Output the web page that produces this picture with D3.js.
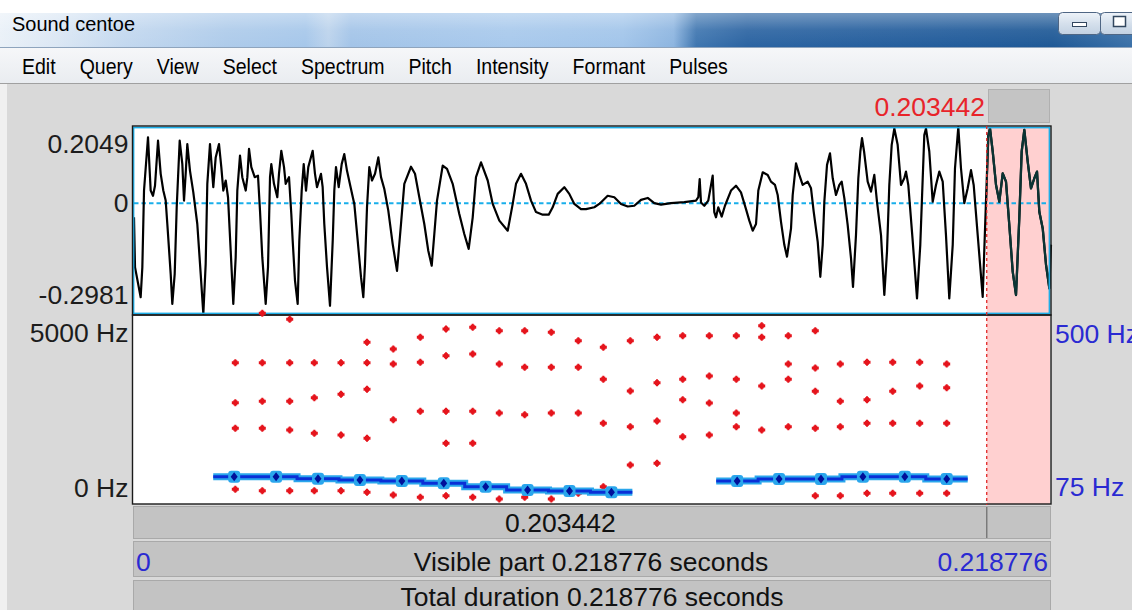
<!DOCTYPE html>
<html>
<head>
<meta charset="utf-8">
<script src="https://cdn.jsdelivr.net/npm/d3@7"></script>
<style>
  html, body { margin: 0; padding: 0; overflow: hidden; background: #d9d9d9; }
  svg { display: block; }
  text { font-family: "Liberation Sans", Arial, sans-serif; }
</style>
</head>
<body>
<svg id="editor" width="1132" height="610"></svg>
<script>
// ---------------- data ----------------
const windowTitle = "Sound centoe";
const menuItems = ["Edit", "Query", "View", "Select", "Spectrum", "Pitch", "Intensity", "Formant", "Pulses"];

const totalDuration = 218.776;   // ms
const cursorTime = 203.442;      // ms
const ampMax = 0.2049, ampMin = -0.2981;
const ampTickValues = [0.2049, 0, -0.2981];
const ampTickLabels = ["0.2049", "0", "-0.2981"];
const freqTickValues = [5000, 0];
const freqTickLabels = ["5000 Hz", "0 Hz"];
const pitchTickValues = [500, 75];
const pitchTickLabels = ["500 Hz", "75 Hz"];

// waveform: [time ms, amplitude]
const waveform = [
  [0,-0.038],[0.24,-0.172],[1.59,-0.253],[1.99,-0.172],[2.39,0.034],[3.34,0.177],[3.98,0.034],[4.53,0.020],
  [5.01,0.047],[5.73,0.168],[6.37,0.079],[6.99,0.034],[7.56,0.007],[7.95,-0.056],[8.75,-0.190],[9.14,-0.271],
  [9.71,-0.190],[10.19,-0.011],[10.90,0.168],[11.53,0.105],[11.93,0.007],[12.33,0.079],[12.72,0.159],[13.36,0.087],
  [14.15,0.029],[15.10,-0.056],[15.91,-0.190],[16.54,-0.2981],[17.10,-0.164],[17.49,0.052],[18.13,0.159],[18.92,0.043],
  [19.49,0.123],[20.28,0.159],[20.83,0.097],[21.31,0.034],[21.88,0.061],[22.43,0.016],[23.07,-0.128],[23.69,-0.271],
  [24.26,-0.146],[24.65,0.034],[25.29,0.128],[25.84,0.070],[26.65,0.034],[27.04,0.070],[27.44,0.146],[27.99,0.097],
  [28.80,0.070],[29.58,0.074],[30.06,-0.020],[30.61,-0.146],[31.42,-0.271],[31.97,-0.172],[32.45,0.070],[32.76,0.105],
  [33.40,0.052],[34.19,0.016],[34.59,0.079],[35.14,0.141],[35.79,0.097],[36.19,0.052],[36.98,0.070],[37.53,-0.029],
  [37.86,-0.101],[38.41,-0.208],[39.05,-0.271],[39.44,-0.101],[40.01,0.034],[40.49,0.105],[41.04,0.034],[41.58,0.097],
  [42.63,0.141],[43.18,0.079],[43.66,0.043],[44.61,0.079],[45.01,0.043],[45.40,-0.056],[46.05,-0.172],[46.76,-0.276],
  [47.41,-0.101],[47.79,0.034],[48.19,0.097],[48.84,0.043],[49.55,0.105],[50.17,0.132],[50.82,0.087],[51.60,0.047],
  [52.56,-0.002],[53.37,-0.101],[54.16,-0.199],[54.71,-0.253],[55.11,-0.164],[55.59,-0.011],[56.14,0.097],[56.78,0.061],
  [57.50,0.079],[58.29,0.123],[58.93,0.070],[59.72,0.038],[60.67,-0.020],[61.72,-0.110],[62.75,-0.182],[63.70,-0.056],
  [64.49,0.052],[66.09,0.098],[67.04,0.079],[68.07,0.016],[69.26,-0.056],[70.21,-0.128],[71.03,-0.168],[71.65,-0.083],
  [72.29,0.007],[73.65,0.101],[74.68,0.092],[76.03,0.052],[77.61,-0.029],[78.80,-0.083],[79.85,-0.123],[80.81,-0.038],
  [81.59,0.070],[82.79,0.110],[84.39,0.061],[85.58,-0.002],[87.16,-0.047],[89.16,-0.074],[90.35,-0.002],[91.14,0.052],
  [92.33,0.079],[93.52,0.052],[94.72,0.007],[95.91,-0.024],[97.51,-0.031],[98.94,-0.031],[99.89,-0.011],[101.08,0.025],
  [102.66,0.043],[103.85,0.025],[105.05,-0.002],[106.64,-0.016],[107.84,-0.016],[109.82,-0.011],[111.01,-0.002],[113.01,0.020],
  [114.59,0.016],[116.19,-0.002],[117.79,-0.009],[119.36,-0.007],[120.96,0.009],[122.56,0.014],[124.13,0.000],[125.73,-0.004],
  [128.12,0.000],[131.29,0.003],[134.08,0.007],[134.63,0.016],[134.96,0.065],[135.27,0.002],[136.06,-0.007],[137.01,0.007],
  [138.06,0.074],[138.44,-0.024],[138.85,-0.038],[139.40,-0.011],[140.21,-0.036],[140.99,-0.007],[142.43,0.034],[143.62,0.047],
  [144.81,0.029],[146.01,-0.016],[146.80,-0.047],[147.61,-0.074],[148.40,-0.056],[148.95,0.034],[150.00,0.083],[151.19,0.076],
  [151.97,0.058],[152.93,0.049],[153.57,0.022],[154.36,-0.050],[155.15,-0.112],[155.79,-0.144],[156.75,-0.068],[157.15,0.022],
  [157.94,0.107],[158.73,0.076],[159.53,0.049],[160.73,0.058],[161.52,0.040],[162.16,-0.023],[163.12,-0.104],[163.74,-0.198],
  [164.31,-0.112],[164.70,0.004],[165.34,0.103],[166.05,0.134],[166.70,0.067],[167.48,0.022],[168.28,0.049],[168.84,0.058],
  [169.48,0.013],[170.27,-0.059],[171.06,-0.148],[171.54,-0.225],[172.25,-0.086],[172.81,0.067],[173.29,0.139],[173.69,0.175],
  [174.18,0.139],[175.04,0.058],[175.83,0.031],[176.62,0.076],[177.26,0.004],[178.22,-0.086],[179.01,-0.247],[179.65,-0.130],
  [180.20,0.049],[180.77,0.157],[181.40,0.201],[182.19,0.157],[182.99,0.049],[183.77,0.067],[184.18,0.085],[184.73,0.049],
  [185.73,-0.094],[186.81,-0.256],[187.59,-0.112],[188.17,0.067],[188.55,0.183],[188.95,0.201],[189.74,0.139],[190.55,0.004],
  [191.34,0.049],[192.13,0.085],[192.94,0.058],[193.72,-0.086],[194.51,-0.256],[195.33,-0.112],[195.87,0.094],[196.66,0.2049],
  [197.30,0.094],[198.09,0.000],[198.90,0.040],[199.69,0.089],[200.33,0.049],[201.29,-0.086],[202.48,-0.252],[203.26,0.004],
  [203.82,0.183],[204.22,0.201],[204.87,0.139],[205.66,0.049],[206.45,0.004],[207.26,0.080],[208.04,0.058],[208.83,-0.059],
  [209.64,-0.184],[210.43,-0.247],[211.21,-0.041],[211.78,0.139],[212.41,0.197],[213.22,0.112],[214.00,0.040],[214.80,0.067],
  [215.44,0.085],[215.99,-0.023],[216.80,-0.068],[217.59,-0.166],[218.38,-0.229],[218.776,-0.112]
];

// formant frames (ms) and the formant frequencies found in each frame (Hz)
const formantTimes = [24.17,30.61,37.15,43.02,49.39,55.59,61.86,68.31,74.44,80.81,87.15,93.21,99.56,106.00,
                      111.97,118.41,124.78,130.91,137.26,143.70,149.76,156.10,162.54,168.51,174.88,181.01,187.45,193.89];
const formantFreqs = [
  [391,2014,2695,3759],[354,2014,2732,3759,5073],[354,1968,2732,3759,4913],[354,1881,2828,3759],
  [354,1835,2918,3759],[311,1748,3051,3759,4301],[239,2242,3724,4123],[178,2466,3769,4434],
  [221,1615,2466,3945,4655],[178,1615,2466,3990,4700],[133,2421,3724,4610],[178,2375,3636,4610],
  [133,2421,3636,4567],[285,2421,3636,4344],[460,2147,3317,4168],[1037,2056,3006,4344],
  [1083,2208,3227,4434],[1790,2774,3317,4477],[1835,2687,3405,4477],[2056,2421,3317,4477],
  [1968,3139,4434,4743],[2056,3317,3724,4477],[221,2014,2998,3618,4610],[221,2056,2732,3724],
  [285,2147,2774,3769],[285,2147,2998,3769],[285,2147,3139,3769],[285,2147,3094,3724]
];

// pitch contour, two voiced stretches (ms, Hz)
const pitchTimesA = [23.9,33.9,43.9,53.9,63.9,73.9,83.9,93.9,103.9,113.9];
const pitchHzA    = [136.7,136.7,132.2,129.3,127.0,121.8,114.1,106.6,104.4,101.4];
const pitchTimesB = [143.9,153.9,163.9,173.9,183.9,193.9];
const pitchHzB    = [127.0,131.5,131.5,136.7,136.7,131.5];
const pitchStep = 10; // ms

// ---------------- layout ----------------
const W = 1132, H = 610;
const plot = { x0: 134, x1: 1051, wTop: 127, wBot: 314, sTop: 316, sBot: 504 };
const FONT = 26.5;

const svg = d3.select("#editor");
const defs = svg.append("defs");

const x = d3.scaleLinear().domain([0, totalDuration]).range([plot.x0, plot.x1]);
const yAmp = d3.scaleLinear().domain([ampMin, ampMax]).range([plot.wBot, plot.wTop]);
const yFreq = d3.scaleLinear().domain([0, 5000]).range([plot.sBot, plot.sTop]);
const yPitch = d3.scaleLinear().domain([75, 500]).range([plot.sBot, plot.sTop]);

// ---------------- window chrome ----------------
svg.append("rect").attr("width", W).attr("height", H).attr("fill", "#d9d9d9");
svg.append("rect").attr("width", W).attr("height", 13).attr("fill", "#ffffff");

const tg = defs.append("linearGradient").attr("id", "titleGrad");
[[0, "#eaf1f8"], [0.05, "#dbe7f4"], [0.11, "#c3d8ef"], [0.2, "#aecbea"], [0.27, "#a6c7ea"],
 [0.29, "#bcd3ec"], [0.31, "#a3c4e8"], [0.45, "#a8c9ec"], [0.55, "#a2c5ea"], [0.595, "#8db5e0"],
 [0.615, "#3f76b0"], [0.66, "#2c64a2"], [0.85, "#225c9b"], [0.93, "#1f5996"], [1, "#3a70a8"]]
  .forEach(([o, c]) => tg.append("stop").attr("offset", o).attr("stop-color", c));
svg.append("rect").attr("y", 13).attr("width", W).attr("height", 34).attr("fill", "url(#titleGrad)");

const gloss = defs.append("linearGradient").attr("id", "gloss").attr("x2", 0).attr("y2", 1);
gloss.append("stop").attr("offset", 0).attr("stop-color", "#fff").attr("stop-opacity", 0.35);
gloss.append("stop").attr("offset", 0.5).attr("stop-color", "#fff").attr("stop-opacity", 0.08);
gloss.append("stop").attr("offset", 1).attr("stop-color", "#fff").attr("stop-opacity", 0.0);
svg.append("rect").attr("y", 13).attr("width", W).attr("height", 34).attr("fill", "url(#gloss)");

svg.append("text").attr("x", 12).attr("y", 31)
  .attr("font-size", 21).attr("fill", "#000").attr("transform", "translate(12,0) scale(0.95,1) translate(-12,0)")
  .text(windowTitle);

// caption buttons (minimise, maximise)
const btnGrad = defs.append("linearGradient").attr("id", "btnGrad").attr("x2", 0).attr("y2", 1);
btnGrad.append("stop").attr("offset", 0).attr("stop-color", "#eef3f9");
btnGrad.append("stop").attr("offset", 0.5).attr("stop-color", "#d5e0ec");
btnGrad.append("stop").attr("offset", 1).attr("stop-color", "#c2d1e2");
svg.append("rect").attr("x", 1058.5).attr("y", 12.5).attr("width", 42).attr("height", 22).attr("rx", 4)
  .attr("fill", "url(#btnGrad)").attr("stroke", "#4f6684");
svg.append("rect").attr("x", 1072.5).attr("y", 22.5).attr("width", 14).attr("height", 4)
  .attr("fill", "#fff").attr("stroke", "#33475f");
svg.append("rect").attr("x", 1100.5).attr("y", 12.5).attr("width", 40).attr("height", 22).attr("rx", 4)
  .attr("fill", "url(#btnGrad)").attr("stroke", "#4f6684");
svg.append("rect").attr("x", 1113.5).attr("y", 16.5).attr("width", 12).attr("height", 10)
  .attr("fill", "#fff").attr("stroke", "#33475f").attr("stroke-width", 1.5);

// menu bar
const mg = defs.append("linearGradient").attr("id", "menuGrad").attr("x2", 0).attr("y2", 1);
mg.append("stop").attr("offset", 0).attr("stop-color", "#f6f7f9");
mg.append("stop").attr("offset", 1).attr("stop-color", "#e9ecf0");
svg.append("rect").attr("y", 47).attr("width", W).attr("height", 37).attr("fill", "url(#menuGrad)");
svg.append("line").attr("x1", 0).attr("x2", W).attr("y1", 47.5).attr("y2", 47.5).attr("stroke", "#8ea4bd");
svg.append("line").attr("x1", 0).attr("x2", W).attr("y1", 83.5).attr("y2", 83.5).attr("stroke", "#a0a0a0");
svg.append("rect").attr("y", 84).attr("width", 7).attr("height", H - 84).attr("fill", "#f0f0f0");

const menuG = svg.append("g").attr("transform", "translate(22,73.5) scale(0.93,1.04)");
let mx = 0;
menuItems.forEach(label => {
  const t = menuG.append("text").attr("x", mx).attr("y", 0).attr("font-size", 21).attr("fill", "#000").text(label);
  mx += t.node().getComputedTextLength() + 24 / 0.93;
});

// ---------------- waveform panel ----------------
svg.append("rect").attr("x", plot.x0 - 1).attr("y", plot.wTop - 1)
  .attr("width", plot.x1 - plot.x0 + 1).attr("height", plot.wBot - plot.wTop + 2).attr("fill", "#fff");
svg.append("rect").attr("x", plot.x0 - 1).attr("y", plot.sTop - 1)
  .attr("width", plot.x1 - plot.x0 + 1).attr("height", plot.sBot - plot.sTop + 1).attr("fill", "#fff");

// selection after the cursor
const selX = x(cursorTime);
svg.append("rect").attr("x", selX).attr("y", plot.wTop)
  .attr("width", plot.x1 - 1 - selX).attr("height", plot.sBot - plot.wTop).attr("fill", "#ffd0d0");

// zero line
svg.append("line").attr("x1", plot.x0).attr("x2", plot.x1 - 1)
  .attr("y1", yAmp(0)).attr("y2", yAmp(0))
  .attr("stroke", "#19aeea").attr("stroke-width", 1.9).attr("stroke-dasharray", "4.5,3");

const waveLine = d3.line().x(d => x(d[0])).y(d => yAmp(d[1]));
svg.append("path").datum(waveform).attr("d", waveLine)
  .attr("fill", "none").attr("stroke", "#000").attr("stroke-width", 2.2).attr("stroke-linejoin", "round");

defs.append("clipPath").attr("id", "selClip").append("rect")
  .attr("x", selX).attr("y", plot.wTop).attr("width", plot.x1 - selX).attr("height", plot.wBot - plot.wTop);
svg.append("path").datum(waveform).attr("d", waveLine).attr("clip-path", "url(#selClip)")
  .attr("fill", "none").attr("stroke", "#0b3434").attr("stroke-width", 2.3).attr("stroke-linejoin", "round");

// panel borders
svg.append("rect").attr("x", 133.5).attr("y", 127.5).attr("width", 916).attr("height", 186)
  .attr("fill", "none").attr("stroke", "#1eaee8").attr("stroke-width", 1.8);
svg.append("rect").attr("x", 132.5).attr("y", 126).attr("width", 918.5).attr("height", 189)
  .attr("fill", "none").attr("stroke", "#1a1a1a").attr("stroke-width", 1.4);
svg.append("rect").attr("x", 132.5).attr("y", 315).attr("width", 918.5).attr("height", 189)
  .attr("fill", "none").attr("stroke", "#1a1a1a").attr("stroke-width", 1.4);

// ---------------- spectrogram panel: formants and pitch ----------------
const formantPoints = [];
formantTimes.forEach((t, i) => formantFreqs[i].forEach(f => formantPoints.push([t, f])));
const dotPath = "M-1,-3.5h2v1h1v1h1.5v3h-1.5v1h-1v1h-2v-1h-1v-1h-1.5v-3h1.5v-1h1z";
svg.append("g").selectAll("path").data(formantPoints).join("path")
  .attr("d", dotPath)
  .attr("transform", d => `translate(${x(d[0])},${yFreq(d[1])})`)
  .attr("fill", "#e5141c");

function pitchSegment(times, hz) {
  const pts = times.map((t, i) => [t, hz[i]]);
  return [[times[0] - pitchStep / 2, hz[0]], ...pts, [times[times.length - 1] + pitchStep / 2, hz[hz.length - 1]]];
}
const pitchLine = d3.line().x(d => x(d[0])).y(d => yPitch(d[1])).curve(d3.curveStep);
[[pitchTimesA, pitchHzA], [pitchTimesB, pitchHzB]].forEach(([ts, hs]) => {
  const seg = pitchSegment(ts, hs);
  svg.append("path").datum(seg).attr("d", pitchLine)
    .attr("fill", "none").attr("stroke", "#2aa6ec").attr("stroke-width", 7);
  svg.append("path").datum(seg).attr("d", pitchLine)
    .attr("fill", "none").attr("stroke", "#0a2fd6").attr("stroke-width", 3);
  const pts = ts.map((t, i) => [t, hs[i]]);
  const g = svg.append("g");
  g.selectAll("rect").data(pts).join("rect")
    .attr("x", d => x(d[0]) - 6).attr("y", d => yPitch(d[1]) - 6)
    .attr("width", 12).attr("height", 12).attr("rx", 3).attr("fill", "#2aa6ec");
  g.selectAll("path").data(pts).join("path")
    .attr("d", "M0,-4.5L3.5,0L0,4.5L-3.5,0Z")
    .attr("transform", d => `translate(${x(d[0])},${yPitch(d[1])})`)
    .attr("fill", "#00109a");
});

// cursor
svg.append("line").attr("x1", selX).attr("x2", selX).attr("y1", 126).attr("y2", 505)
  .attr("stroke", "#e02828").attr("stroke-width", 1.3).attr("stroke-dasharray", "3,3");

// ---------------- labels ----------------
svg.append("g").selectAll("text").data(ampTickValues).join("text")
  .attr("x", 128.5).attr("y", (d, i) => [152.5, 211.5, 303.5][i])
  .attr("text-anchor", "end").attr("font-size", FONT).attr("fill", "#1c1c1c")
  .text((d, i) => ampTickLabels[i]);

svg.append("g").selectAll("text").data(freqTickValues).join("text")
  .attr("x", 128.5).attr("y", (d, i) => [341.5, 496.5][i])
  .attr("text-anchor", "end").attr("font-size", FONT).attr("fill", "#1c1c1c")
  .text((d, i) => freqTickLabels[i]);

svg.append("g").selectAll("text").data(pitchTickValues).join("text")
  .attr("x", 1055).attr("y", (d, i) => [342.5, 495.5][i])
  .attr("font-size", FONT).attr("fill", "#2a2ad2")
  .text((d, i) => pitchTickLabels[i]);

// cursor time above the panel
svg.append("text").attr("x", 985).attr("y", 115.5).attr("text-anchor", "end")
  .attr("font-size", FONT).attr("fill", "#e8242a").text(cursorTime / 1000);
svg.append("rect").attr("x", 988.5).attr("y", 89.5).attr("width", 61).attr("height", 33)
  .attr("fill", "#c4c4c4").attr("stroke", "#b0b0b0");

// ---------------- time bars ----------------
function bar(y, h) {
  svg.append("rect").attr("x", 133.5).attr("y", y + 0.5).attr("width", 917).attr("height", h)
    .attr("fill", "#c3c3c3").attr("stroke", "#a9a9a9");
}
bar(506, 32);
bar(541, 35);
bar(580, 40);

svg.append("line").attr("x1", selX).attr("x2", selX).attr("y1", 507).attr("y2", 538)
  .attr("stroke", "#7a7a7a").attr("stroke-width", 1.5);
svg.append("text").attr("x", (plot.x0 + selX) / 2).attr("y", 531.5).attr("text-anchor", "middle")
  .attr("font-size", FONT).attr("fill", "#111").text(cursorTime / 1000);

svg.append("text").attr("x", 136).attr("y", 570.5).attr("font-size", FONT).attr("fill", "#2a2ad2").text("0");
svg.append("text").attr("x", 591).attr("y", 570.5).attr("text-anchor", "middle")
  .attr("font-size", FONT).attr("fill", "#111")
  .text(`Visible part ${totalDuration / 1000} seconds`);
svg.append("text").attr("x", 1048).attr("y", 570.5).attr("text-anchor", "end")
  .attr("font-size", FONT).attr("fill", "#2a2ad2").text(totalDuration / 1000);

svg.append("text").attr("x", 592).attr("y", 605.5).attr("text-anchor", "middle")
  .attr("font-size", FONT).attr("fill", "#111")
  .text(`Total duration ${totalDuration / 1000} seconds`);
</script>
</body>
</html>
